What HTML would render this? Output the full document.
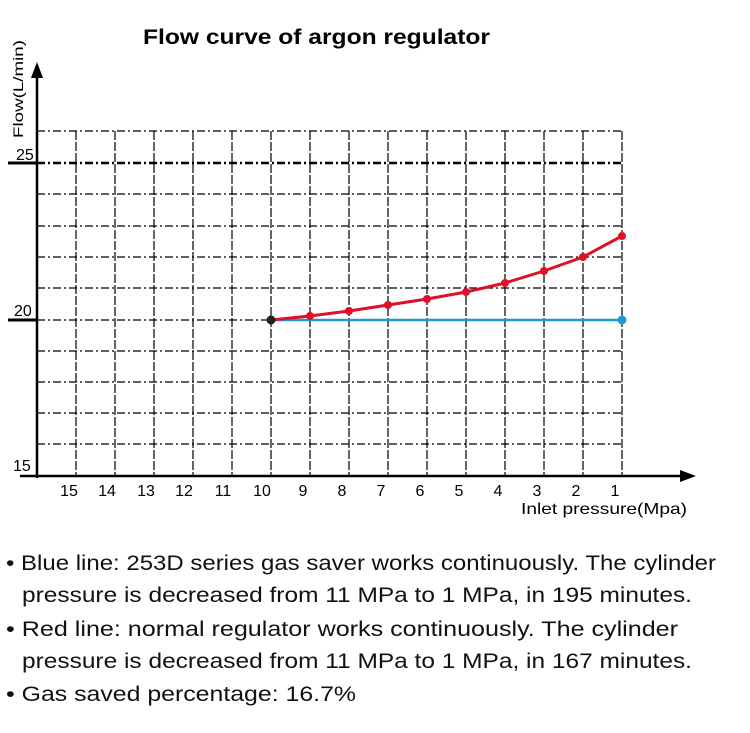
<!DOCTYPE html><html><head><style>body{margin:0;background:#fff;}svg{display:block}</style></head><body>
<svg width="750" height="733" xmlns="http://www.w3.org/2000/svg" font-family="Liberation Sans, sans-serif">
<text x="143" y="44" font-size="21" font-weight="bold" textLength="347" lengthAdjust="spacingAndGlyphs">Flow curve of argon regulator</text>
<g stroke="#000" stroke-width="1.2" stroke-dasharray="8,3,2,3" fill="none">
<path d="M37 131H622M37 194H622M37 226H622M37 257H622M37 288H622M37 320H622M37 351H622M37 382H622M37 413H622M37 444H622"/>
<path d="M76 131V476M115 131V476M154 131V476M193 131V476M232 131V476M271 131V476M310 131V476M349 131V476M388 131V476M427 131V476M466 131V476M505 131V476M544 131V476M583 131V476M622 131V476" stroke-dasharray="9,2"/>
</g>
<path d="M37 163H622" stroke="#000" stroke-width="2.5" stroke-dasharray="8,3,2,3"/>
<path d="M8 163H37M8 320H37" stroke="#000" stroke-width="3"/>
<path d="M37 478V75M20 476H683" stroke="#000" stroke-width="2.5"/>
<path d="M37 62L31 78H43Z M696 476L680 470V482Z"/>
<text x="16" y="160" font-size="16">25</text>
<text x="14" y="316" font-size="16">20</text>
<text x="13" y="471" font-size="16">15</text>
<text transform="translate(23,138) rotate(-90)" font-size="14" textLength="98" lengthAdjust="spacingAndGlyphs">Flow(L/min)</text>
<g font-size="16" text-anchor="middle">
<text x="69" y="496">15</text><text x="107" y="496">14</text><text x="146" y="496">13</text><text x="184" y="496">12</text><text x="223" y="496">11</text><text x="262" y="496">10</text><text x="303" y="496">9</text><text x="342" y="496">8</text><text x="381" y="496">7</text><text x="420" y="496">6</text><text x="459" y="496">5</text><text x="498" y="496">4</text><text x="537" y="496">3</text><text x="576" y="496">2</text><text x="615" y="496">1</text>
</g>
<text x="521" y="514" font-size="16" textLength="166" lengthAdjust="spacingAndGlyphs">Inlet pressure(Mpa)</text>
<path d="M271 320H622" stroke="#1a9ad6" stroke-width="2.5"/>
<polyline points="271,320 310,316 349,311 388,305 427,299 466,292 505,283 544,271 583,257 622,236" fill="none" stroke="#e0102a" stroke-width="3"/>
<g fill="#e0102a"><circle cx="310" cy="316" r="4"/><circle cx="349" cy="311" r="4"/><circle cx="388" cy="305" r="4"/><circle cx="427" cy="299" r="4"/><circle cx="466" cy="292" r="4"/><circle cx="505" cy="283" r="4"/><circle cx="544" cy="271" r="4"/><circle cx="583" cy="257" r="4"/><circle cx="622" cy="236" r="4"/></g>
<circle cx="271" cy="320" r="4.5" fill="#222"/><circle cx="622" cy="320" r="4.5" fill="#1a9ad6"/>
<g font-size="21" fill="#111">
<text x="6" y="570" textLength="710" lengthAdjust="spacingAndGlyphs">• Blue line: 253D series gas saver works continuously. The cylinder</text>
<text x="22" y="602" textLength="670" lengthAdjust="spacingAndGlyphs">pressure is decreased from 11 MPa to 1 MPa, in 195 minutes.</text>
<text x="6" y="636" textLength="672" lengthAdjust="spacingAndGlyphs">• Red line: normal regulator works continuously. The cylinder</text>
<text x="22" y="668" textLength="670" lengthAdjust="spacingAndGlyphs">pressure is decreased from 11 MPa to 1 MPa, in 167 minutes.</text>
<text x="6" y="701" textLength="350" lengthAdjust="spacingAndGlyphs">• Gas saved percentage: 16.7%</text>
</g>
</svg></body></html>
